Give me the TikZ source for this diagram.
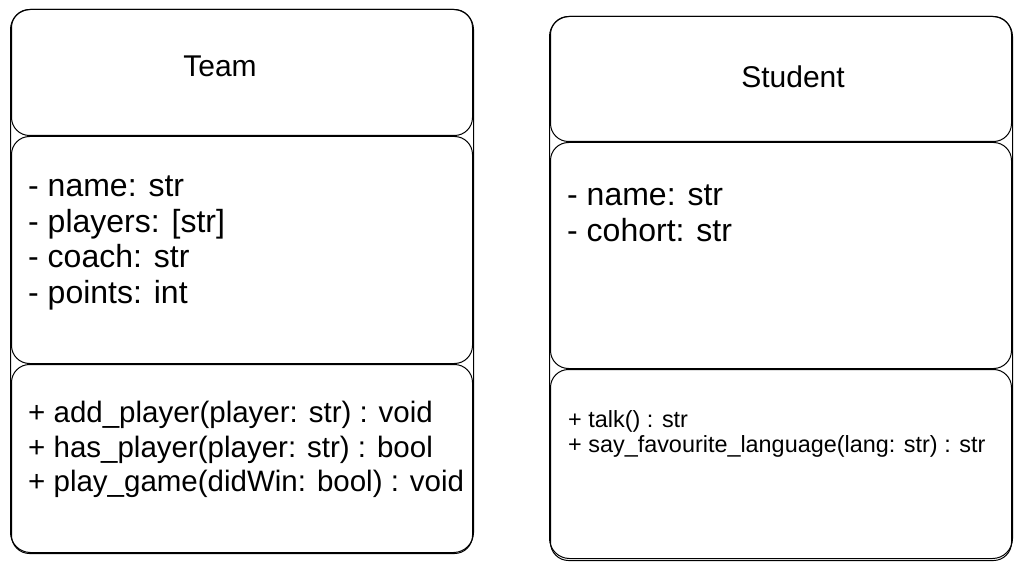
\documentclass[tikz,border=0pt]{standalone}
\usepackage{fontspec}
\setmainfont{Liberation Sans}
\usetikzlibrary{positioning}

\begin{document}
\begin{tikzpicture}[x=1pt, y=-1pt,
        part/.style={
            rectangle,
            draw,
            rounded corners=18pt,
            line width=1pt,
            minimum width=461pt,
            inner sep=0pt,
            anchor=north west
        },
        classbox/.style={part, rounded corners=20pt, minimum width=463pt},
        classname/.style={anchor=base, inner sep=0pt, font=\fontsize{30}{36}\selectfont},
        member/.style={anchor=north west, align=left, inner sep=0pt, font=\fontsize{32}{35.5}\selectfont},
        opmember/.style={member, font=\fontsize{29.5}{34.5}\selectfont},
        smallmember/.style={member, font=\fontsize{23.4}{25}\selectfont},
        node distance=0pt
    ]
    \useasboundingbox (0,0) rectangle (1022,569);

    % Team
    \node[classbox, minimum height=543pt] (team) at (10,9) {};
    \node[part, minimum height=126pt] (teamhead) at (11,9) {};
    \node[part, minimum height=227pt, below=of teamhead] (teamattr) {};
    \node[part, minimum height=189pt, below=of teamattr] (teamops) {};
    \node[classname] (teamname) at (220,77) {Team};
    \node[member] (teamfields) at (28,176) {- name: str\\- players: [str]\\- coach: str\\- points: int};
    \node[opmember] (teammethods) at (28,401) {+ add\_player(player: str) : void\\+ has\_player(player: str) : bool\\+ play\_game(didWin: bool) : void};

    % Student
    \node[classbox, minimum height=542pt] (student) at (549,16) {};
    \node[part, minimum height=125pt] (studenthead) at (550,16) {};
    \node[part, minimum height=226pt, below=of studenthead] (studentattr) {};
    \node[part, minimum height=191pt, below=of studentattr] (studentops) {};
    \node[classname] (studentname) at (793,88) {Student};
    \node[member] (studentfields) at (567,185) {- name: str\\- cohort: str};
    \node[smallmember] (studentmethods) at (568,410) {+ talk() : str\\+ say\_favourite\_language(lang: str) : str};

\end{tikzpicture}
\end{document}
